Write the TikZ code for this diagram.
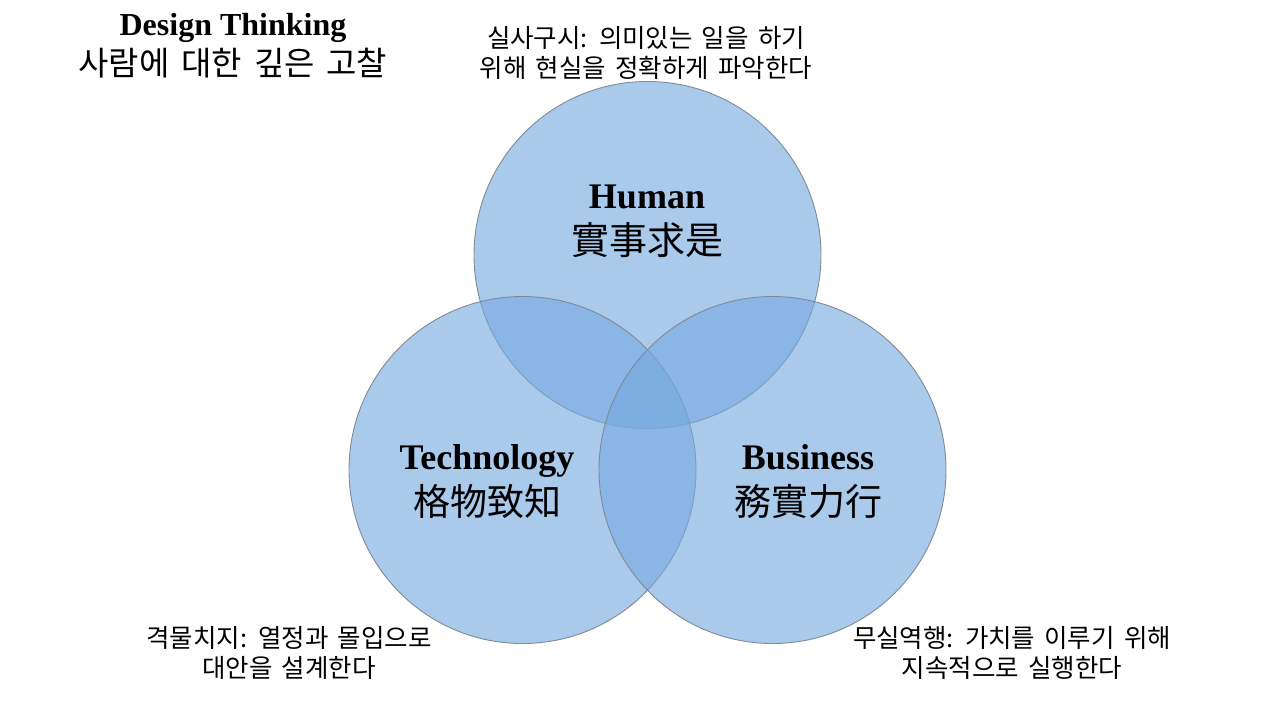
\documentclass[tikz,border=0pt]{standalone}
\usepackage{fontspec}
\setmainfont{Liberation Serif}
\newfontfamily\kr{Noto Sans CJK KR}[WordSpace=1.6]
\usepackage{tikz}
\usetikzlibrary{positioning, calc}
\definecolor{venn-blue}{RGB}{118,169,223}
\definecolor{venn-edge}{RGB}{128,138,150}

\begin{document}
\begin{tikzpicture}[
    x=1pt, y=-1pt,
    venn/.style={circle, minimum size=347pt, inner sep=0pt, fill=venn-blue, fill opacity=0.62, draw=venn-edge, draw opacity=1, line width=0.9pt},
    title/.style={align=center, font=\fontsize{32}{40}\selectfont},
    pillar/.style={align=center, font=\fontsize{36}{46}\selectfont},
    note/.style={align=center, font=\kr\fontsize{25.5}{30}\selectfont}
]
\useasboundingbox (0,0) rectangle (1280,720);

% Circles
\node[venn] (human) at (647.5,255) {};
\node[venn] (tech) at (522.5,470) {};
\node[venn] (business) at (772.5,470) {};

% Circle labels
\node[pillar] (humanlbl) at (647,221) {\textbf{Human}\\{\kr\fontsize{38}{46}\selectfont 實事求是}};
\node[pillar] (techlbl) at (487,482) {\textbf{Technology}\\{\kr\fontsize{37}{46}\selectfont 格物致知}};
\node[pillar] (businesslbl) at (808,482) {\textbf{Business}\\{\kr\fontsize{37}{46}\selectfont 務實力行}};

% Title
\node[title] (title) at (233,46) {\textbf{Design Thinking}\\{\kr\fontsize{33}{40}\selectfont 사람에 대한 깊은 고찰}};

% Notes
\node[note] (humannote) at (646,53) {실사구시: 의미있는 일을 하기\\위해 현실을 정확하게 파악한다};
\node[note] (technote) at (289,653) {격물치지: 열정과 몰입으로\\대안을 설계한다};
\node[note] (businessnote) at (1012,653) {무실역행: 가치를 이루기 위해\\지속적으로 실행한다};

\end{tikzpicture}
\end{document}
